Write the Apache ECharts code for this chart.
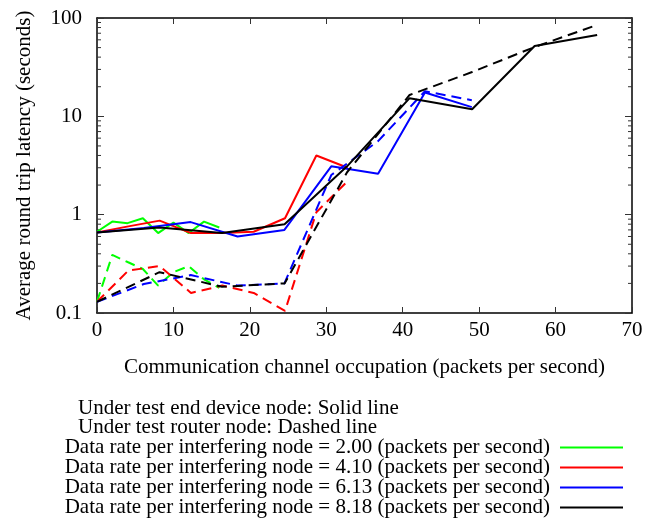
<!DOCTYPE html>
<html><head><meta charset="utf-8">
<script src="https://cdn.jsdelivr.net/npm/echarts@6/dist/echarts.min.js"></script>
<style>html,body{margin:0;padding:0;background:#fff}#c{width:662px;height:522px}</style>
</head><body><div id="c"></div>
<script>
// Channel occupation (packets per second) for each data rate
const occGreen = [0, 2, 4, 6, 8, 10, 12, 14, 16];
const occRed   = [0, 4.1, 8.2, 12.3, 16.4, 20.5, 24.6, 28.7, 32.8];
const occBlue  = [0, 6.13, 12.26, 18.39, 24.52, 30.65, 36.78, 42.91, 49.04];
const occBlack = [0, 8.18, 16.36, 24.54, 32.72, 40.9, 49.08, 57.26, 65.44];

// Average round trip latency (seconds): end device (solid) / router (dashed)
const greenSolid  = [0.67, 0.85, 0.82, 0.92, 0.65, 0.83, 0.65, 0.85, 0.74];
const greenDashed = [0.13, 0.39, 0.33, 0.28, 0.19, 0.26, 0.30, 0.22, 0.18];
const redSolid    = [0.66, 0.76, 0.87, 0.65, 0.65, 0.67, 0.92, 4.0, 3.0];
const redDashed   = [0.13, 0.27, 0.30, 0.16, 0.19, 0.16, 0.105, 1.06, 2.2];
const blueSolid   = [0.66, 0.73, 0.84, 0.60, 0.70, 3.1, 2.6, 17.5, 12.4];
const blueDashed  = [0.13, 0.197, 0.243, 0.19, 0.20, 2.53, 5.6, 18.0, 14.6];
const blackSolid  = [0.66, 0.74, 0.65, 0.80, 3.1, 15.3, 11.8, 51.9, 67];
const blackDashed = [0.13, 0.26, 0.185, 0.20, 2.7, 16.5, 28.2, 50.7, 85];

const legendNames = [
  'Data rate per interfering node = 2.00 (packets per second)',
  'Data rate per interfering node = 4.10 (packets per second)',
  'Data rate per interfering node = 6.13 (packets per second)',
  'Data rate per interfering node = 8.18 (packets per second)'
];
const noteLines = ['Under test end device node: Solid line', 'Under test router node: Dashed line'];
const minorTicks = [0.2,0.3,0.4,0.5,0.6,0.7,0.8,0.9,2,3,4,5,6,7,8,9,20,30,40,50,60,70,80,90];

const FONT = '"Liberation Serif","Times New Roman","DejaVu Serif",serif';
const FS = 21;
const pair = (xs, ys) => xs.map((x, i) => [x, ys[i]]);

function lineSeries(name, xs, ys, color, dashed) {
  return {
    name, type: 'line', data: pair(xs, ys), symbol: 'none', showSymbol: false,
    lineStyle: { color, width: 2, type: dashed ? [10, 6] : 'solid' },
    itemStyle: { color }, animation: false, z: 3
  };
}

const chart = echarts.init(document.getElementById('c'), null, { renderer: 'canvas' });
chart.setOption({
  backgroundColor: '#fff',
  animation: false,
  textStyle: { fontFamily: FONT },
  grid: { left: 97, top: 18, width: 535, height: 295 },
  xAxis: [{
    type: 'value', min: 0, max: 70, interval: 10, position: 'bottom',
    name: 'Communication channel occupation (packets per second)',
    nameLocation: 'middle', nameGap: 44,
    nameTextStyle: { fontFamily: FONT, fontSize: FS, color: '#000' },
    axisLine: { show: true, onZero: false, lineStyle: { color: '#000', width: 1.5 } },
    axisTick: { inside: true, length: 6, lineStyle: { color: '#333' } },
    axisLabel: { fontFamily: FONT, fontSize: FS, color: '#000', margin: 7 },
    splitLine: { show: false }
  }, {
    type: 'value', min: 0, max: 70, interval: 10, position: 'top',
    axisLine: { show: true, onZero: false, lineStyle: { color: '#000', width: 1.5 } },
    axisTick: { inside: true, length: 6, lineStyle: { color: '#333' } },
    axisLabel: { show: false }, splitLine: { show: false }
  }],
  yAxis: [{
    type: 'log', logBase: 10, min: 0.1, max: 100, position: 'left',
    name: 'Average round trip latency (seconds)',
    nameLocation: 'middle', nameGap: 62, nameRotate: 90,
    nameTextStyle: { fontFamily: FONT, fontSize: FS, color: '#000' },
    axisLine: { show: true, onZero: false, lineStyle: { color: '#000', width: 1.5 } },
    axisTick: { inside: true, length: 7, lineStyle: { color: '#333' } },
    axisLabel: { fontFamily: FONT, fontSize: FS, color: '#000', margin: 15,
      formatter: v => (v < 1 ? String(Number(v.toFixed(1))) : String(Math.round(v))) },
    splitLine: { show: false }
  }, {
    type: 'log', logBase: 10, min: 0.1, max: 100, position: 'right',
    axisLine: { show: true, onZero: false, lineStyle: { color: '#000', width: 1.5 } },
    axisTick: { inside: true, length: 7, lineStyle: { color: '#333' } },
    axisLabel: { show: false }, splitLine: { show: false }
  }],
  legend: legendNames.map((n, i) => ({
    orient: 'horizontal', right: 39, top: 437 + i * 20, align: 'right', padding: 0,
    itemWidth: 63, itemHeight: 2, icon: 'rect',
    data: [n],
    textStyle: { fontFamily: FONT, fontSize: FS, color: '#000', lineHeight: 20, padding: [0, 5, 0, 0] },
    selectedMode: false
  })),
  graphic: noteLines.map((t, i) => ({
    type: 'text', left: 78, top: 398 + i * 19,
    style: { text: t, font: FS + 'px ' + FONT, fill: '#000' }
  })),
  series: [
    {
      type: 'custom', name: 'minorTicks', silent: true, z: 1,
      data: minorTicks.map(v => [v]),
      renderItem: (params, api) => {
        const cs = params.coordSys;
        const p = api.coord([0, api.value(0)]);
        const y = p[1];
        return { type: 'group', children: [
          { type: 'line', shape: { x1: cs.x, y1: y, x2: cs.x + 4, y2: y }, style: { stroke: '#333', lineWidth: 1 } },
          { type: 'line', shape: { x1: cs.x + cs.width, y1: y, x2: cs.x + cs.width - 4, y2: y }, style: { stroke: '#333', lineWidth: 1 } }
        ]};
      },
      encode: { y: 0 }
    },
    lineSeries(legendNames[0], occGreen, greenSolid, '#00ff00', false),
    lineSeries('g-dash', occGreen, greenDashed, '#00ff00', true),
    lineSeries(legendNames[1], occRed, redSolid, '#ff0000', false),
    lineSeries('r-dash', occRed, redDashed, '#ff0000', true),
    lineSeries(legendNames[2], occBlue, blueSolid, '#0000ff', false),
    lineSeries('b-dash', occBlue, blueDashed, '#0000ff', true),
    lineSeries(legendNames[3], occBlack, blackSolid, '#000000', false),
    lineSeries('k-dash', occBlack, blackDashed, '#000000', true)
  ]
});
</script></body></html>
